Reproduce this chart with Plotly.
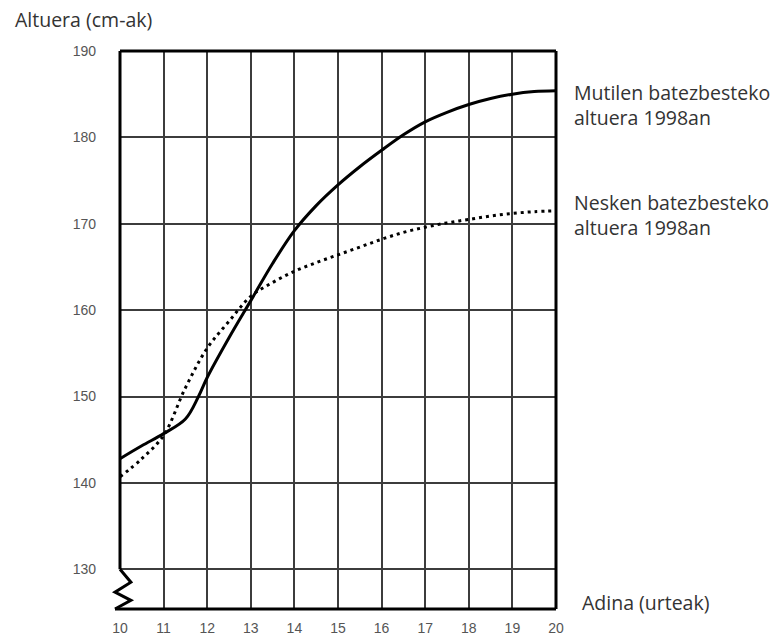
import plotly.graph_objects as go

# ---- data ----
ages_boys = [10, 10.5, 11, 11.5, 11.8, 12, 12.5, 13, 13.5, 14, 14.5, 15, 15.5, 16, 16.5, 17, 17.5, 18, 18.5, 19, 19.5, 20]
height_boys = [142.8, 144.3, 145.7, 147.4, 150.0, 152.2, 156.8, 161.1, 165.4, 169.2, 172.1, 174.5, 176.6, 178.5, 180.3, 181.8, 182.9, 183.8, 184.5, 185.0, 185.3, 185.4]
ages_girls = [10, 10.5, 11, 11.5, 12, 12.5, 13, 13.5, 14, 14.5, 15, 15.5, 16, 16.5, 17, 17.5, 18, 18.5, 19, 19.5, 20]
height_girls = [140.7, 142.8, 145.5, 151.0, 155.6, 158.7, 161.6, 163.2, 164.5, 165.5, 166.4, 167.3, 168.2, 169.0, 169.6, 170.1, 170.5, 170.9, 171.2, 171.4, 171.5]
x_ticks = [10, 11, 12, 13, 14, 15, 16, 17, 18, 19, 20]
y_ticks = [130, 140, 150, 160, 170, 180, 190]

X_MIN, X_MAX = 10, 20
Y_MIN, Y_MAX = 125.4, 190

def px_(v):
    return (v - X_MIN) / (X_MAX - X_MIN)

def py_(v):
    return (v - Y_MIN) / (Y_MAX - Y_MIN)

fig = go.Figure()
fig.add_trace(go.Scatter(x=ages_boys, y=height_boys, mode="lines",
                         line=dict(color="black", width=3, shape="spline", smoothing=1.0),
                         showlegend=False, hoverinfo="skip"))
fig.add_trace(go.Scatter(x=ages_girls, y=height_girls, mode="lines",
                         line=dict(color="black", width=3, shape="spline", smoothing=1.0, dash="3px,4px"),
                         showlegend=False, hoverinfo="skip"))

tickfont = dict(family="Liberation Sans, Arial, sans-serif", size=14, color="#555555")
fig.update_xaxes(range=[X_MIN, X_MAX], tickvals=x_ticks, ticktext=[str(v) for v in x_ticks],
                 showgrid=True, gridcolor="#3c3c3c", gridwidth=1.8, zeroline=False, automargin=False,
                 showline=False, ticks="", ticklabelstandoff=9, tickfont=tickfont, fixedrange=True)
fig.update_yaxes(range=[Y_MIN, Y_MAX], tickvals=y_ticks, ticktext=[str(v) for v in y_ticks],
                 showgrid=True, gridcolor="#3c3c3c", gridwidth=1.8, zeroline=False, automargin=False,
                 showline=False, ticks="", ticklabelstandoff=23, tickfont=tickfont, fixedrange=True)

border = dict(color="black", width=3)
shapes = [
    dict(type="line", xref="paper", yref="paper", x0=px_(X_MIN), x1=px_(X_MAX), y0=1, y1=1, line=border),
    dict(type="line", xref="paper", yref="paper", x0=1, x1=1, y0=0, y1=1, line=border),
    dict(type="line", xref="paper", yref="paper", x0=px_(9.885), x1=1, y0=0, y1=0, line=border),
    dict(type="line", xref="paper", yref="paper", x0=0, x1=0, y0=py_(130), y1=1, line=border),
]
zig = [(10, 130), (10.25, 128.5), (9.885, 127.35), (10.25, 126.4), (9.885, Y_MIN)]
path = "M " + " L ".join(f"{px_(a):.5f},{py_(b):.5f}" for a, b in zig)
shapes.append(dict(type="path", xref="paper", yref="paper", path=path, line=border))

textfont = dict(family="Open Sans, Noto Sans, sans-serif", size=19.5, color="#333333")
annotations = [
    dict(text="Altuera (cm-ak)", xref="paper", yref="paper", x=-0.2454, y=1.0556,
         xanchor="left", yanchor="middle", showarrow=False, font=textfont),
    dict(text="Adina (urteak)", xref="paper", yref="paper", x=1.055, y=0.0125,
         xanchor="left", yanchor="middle", showarrow=False, font=textfont),
    dict(text="Mutilen batezbesteko<br>altuera 1998an", xref="paper", yref="paper", x=1.036, y=0.903,
         xanchor="left", yanchor="middle", align="left", showarrow=False, font=textfont),
    dict(text="Nesken batezbesteko<br>altuera 1998an", xref="paper", yref="paper", x=1.036, y=0.706,
         xanchor="left", yanchor="middle", align="left", showarrow=False, font=textfont),
]

fig.update_layout(width=772, height=637, margin=dict(l=120, r=216, t=51, b=28),
                  paper_bgcolor="white", plot_bgcolor="white",
                  shapes=shapes, annotations=annotations, showlegend=False)
fig.write_html("out.html", config={"displayModeBar": False},
               post_script="document.body.style.margin='0';document.body.style.overflow='hidden';")
